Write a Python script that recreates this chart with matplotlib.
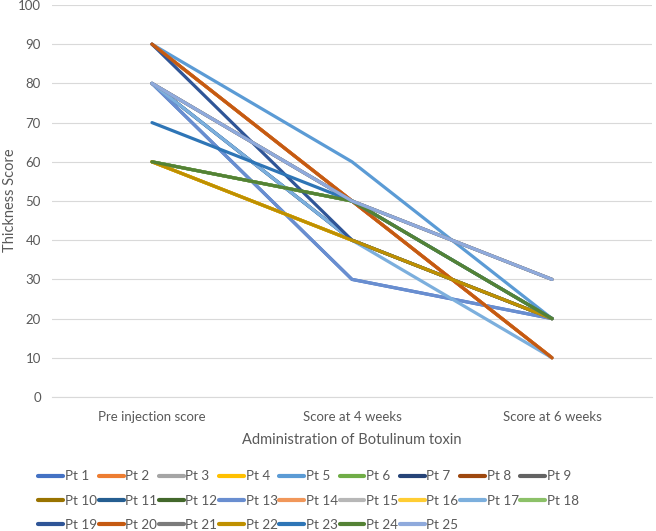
import matplotlib.pyplot as plt

# categories on the x axis
timepoints = ["Pre injection score", "Score at 4 weeks", "Score at 6 weeks"]

# thickness score per patient (pre, 4 weeks, 6 weeks)
patients = ["Pt %d" % i for i in range(1, 26)]
pre_scores = [80, 90, 80, 60, 90, 60, 80, 90, 80, 60, 80, 60, 80,
              90, 80, 60, 80, 60, 90, 90, 80, 60, 70, 60, 80]
week4_scores = [30, 50, 50, 40, 60, 50, 40, 50, 50, 40, 40, 50, 30,
                50, 50, 40, 40, 50, 40, 50, 50, 40, 50, 50, 50]
week6_scores = [20, 10, 30, 20, 20, 20, 20, 10, 30, 20, 20, 20, 20,
                10, 30, 20, 10, 20, 20, 10, 30, 20, 20, 20, 30]

# office style series colours
colours = ["#4472C4", "#ED7D31", "#A5A5A5", "#FFC000", "#5B9BD5", "#70AD47",
           "#264478", "#9E480E", "#636363", "#997300", "#255E91", "#43682B",
           "#698ED0", "#F1975A", "#B7B7B7", "#FFCD33", "#7CAFDD", "#8CC168",
           "#2F5597", "#C55A11", "#7B7B7B", "#BF9000", "#2E75B6", "#548235",
           "#8FAADC"]

plt.rcParams['font.family'] = ['Lato', 'DejaVu Sans']
text_col = "#595959"

fig = plt.figure(figsize=(6.56, 5.31), dpi=100)
ax = fig.add_axes([52 / 656, 1 - 397 / 531, 600 / 656, 392 / 531])

x = list(range(len(timepoints)))
handles = []
for i, name in enumerate(patients):
    vals = [pre_scores[i], week4_scores[i], week6_scores[i]]
    h, = ax.plot(x, vals, color=colours[i], linewidth=2.3,
                 solid_capstyle='round', label=name)
    handles.append(h)

ax.set_xlim(-0.5, 2.5)
ax.set_ylim(0, 100)
ax.set_yticks(range(0, 101, 10))
ax.set_xticks(x)
ax.set_xticklabels(timepoints)
ax.tick_params(length=0, labelsize=9.5, colors=text_col)
ax.tick_params(axis='y', pad=8)
ax.tick_params(axis='x', pad=10)
ax.grid(axis='y', color="#D9D9D9", linewidth=0.8)
ax.set_axisbelow(True)
for side in ['left', 'right', 'top']:
    ax.spines[side].set_visible(False)
ax.spines['bottom'].set_color("#D9D9D9")

ax.set_xlabel("Administration of Botulinum toxin", fontsize=10.5,
              color=text_col, labelpad=7)
fig.text(10 / 656, 1 - 200 / 531, "Thickness Score", rotation=90,
         ha='center', va='center', fontsize=10.5, color=text_col)

# legend is filled column by column, so reorder to read row by row
ncol = 9
order = []
for c in range(ncol):
    for r in range(3):
        k = r * ncol + c
        if k < len(handles):
            order.append(k)
leg = fig.legend([handles[k] for k in order], [patients[k] for k in order],
                 ncol=ncol, loc='upper left', bbox_to_anchor=(33 / 656, 1 - 465 / 531),
                 frameon=False, fontsize=9.7, handlelength=1.85, handletextpad=0.12,
                 columnspacing=0.12, labelspacing=0.92, labelcolor=text_col,
                 borderaxespad=0)
for line in leg.get_lines():
    line.set_linewidth(3)

fig.savefig("out.png", dpi=100)
